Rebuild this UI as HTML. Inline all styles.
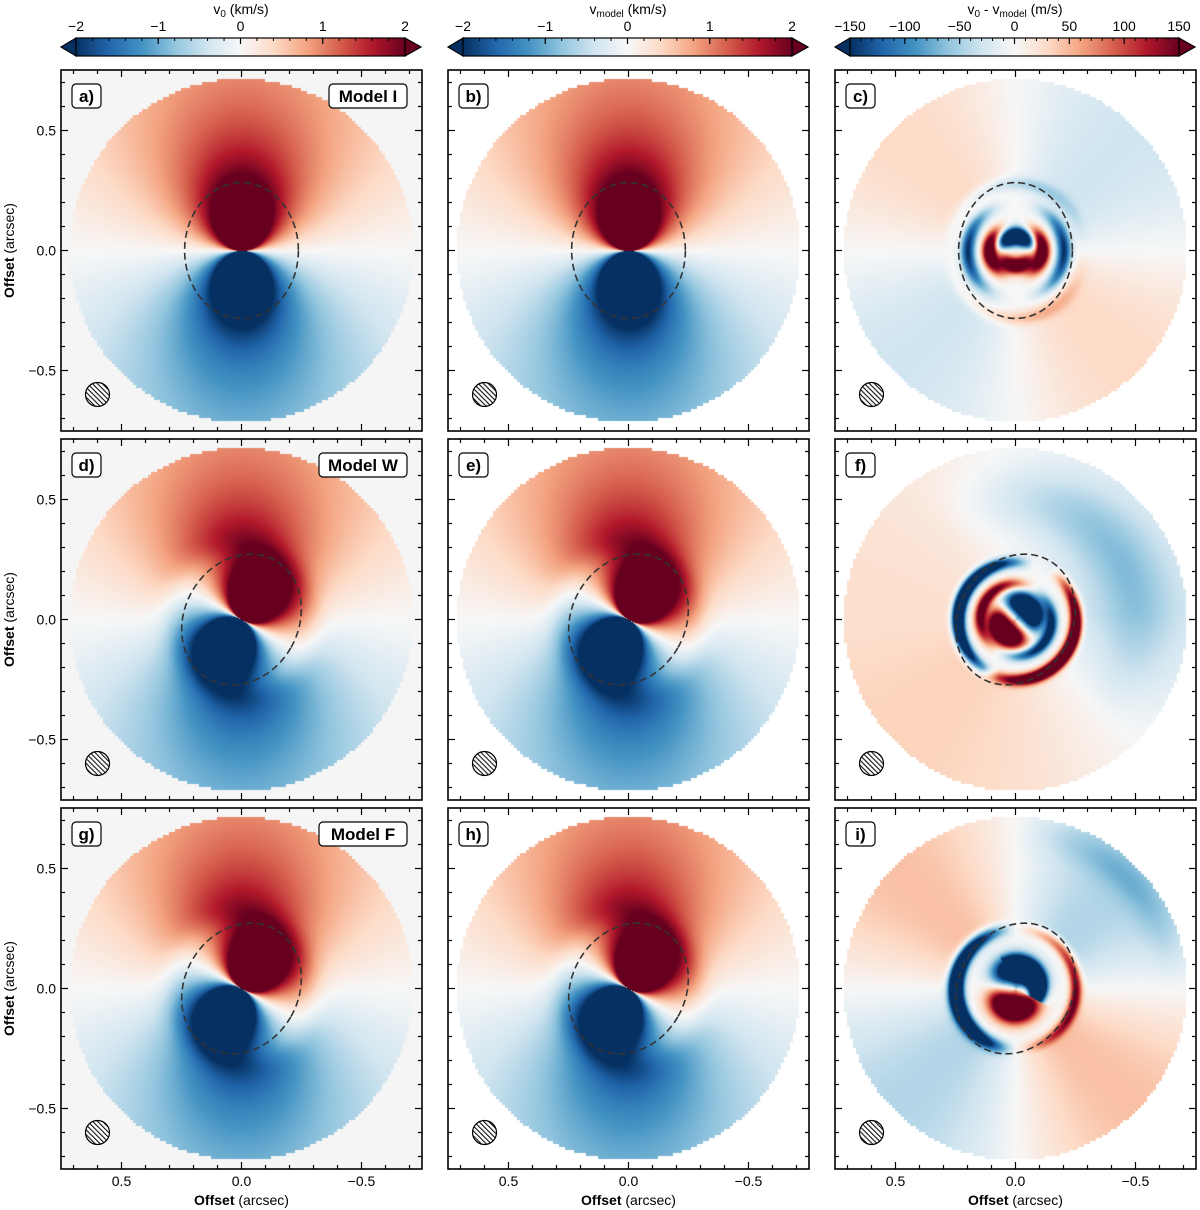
<!DOCTYPE html>
<html><head><meta charset="utf-8">
<style>
body{margin:0;background:#fff;width:1200px;height:1210px;position:relative;overflow:hidden;font-family:"Liberation Sans","DejaVu Sans",sans-serif}
canvas{position:absolute}
svg{position:absolute;left:0;top:0}
</style></head><body>
<div id="canvases"></div>
<svg id="ov" width="1200" height="1210"></svg>
<script>
// ---- data ----
const colLeft=[61,448,835];
const rowTop=[70,439,808];
const panelLetters=[["a)","b)","c)"],["d)","e)","f)"],["g)","h)","i)"]];
const modelNames=["Model I","Model W","Model F"];
const rowWarpPA=[0,30,30];          // inner position angle (deg)
const axisTicks=[0.5,0.0,-0.5];
const axisTickLabels=["0.5","0.0","\u22120.5"];
const cbVelTicks=[-2,-1,0,1,2];
const cbVelLabels=["\u22122","\u22121","0","1","2"];
const cbResTicks=[-150,-100,-50,0,50,100,150];
const cbResLabels=["\u2212150","\u2212100","\u221250","0","50","100","150"];
const vmaxVel=2, vmaxRes=150;
const diskR=0.715, ellA=0.283, ellB=0.237;
const SIZE=361, SCALE=240; // px per arcsec
const NS="http://www.w3.org/2000/svg";
const ov=document.getElementById('ov');
function el(tag,attrs,parent){const e=document.createElementNS(NS,tag);for(const k in attrs)e.setAttribute(k,attrs[k]);(parent||ov).appendChild(e);return e;}
const cmap=["#053061","#2166ac","#4393c3","#92c5de","#d1e5f0","#f7f7f7","#fddbc7","#f4a582","#d6604d","#b2182b","#67001f"].map(h=>[parseInt(h.slice(1,3),16),parseInt(h.slice(3,5),16),parseInt(h.slice(5,7),16)]);
function cm(t){t=Math.max(0,Math.min(1,t));const f=t*10,i=Math.min(9,Math.floor(f)),u=f-i;const a=cmap[i],b=cmap[i+1];return [a[0]+(b[0]-a[0])*u,a[1]+(b[1]-a[1])*u,a[2]+(b[2]-a[2])*u];}
function g(r,c,w){return Math.exp(-((r-c)/w)*((r-c)/w));}
function vel(x,y,pa0){
  const r=Math.hypot(x,y);
  const w=1/(1+Math.exp((r-0.31)/0.03));
  const pa=-pa0*w*Math.PI/180;
  const ux=Math.sin(pa),uy=Math.cos(pa);
  const a=x*ux+y*uy, b=(x*uy-y*ux)/0.84;
  const rd=Math.max(1e-4,Math.hypot(a,b));
  return 1.0*Math.pow(0.7/rd,0.9)*a/rd;
}
function res(x,y,row){
  const r=Math.hypot(x,y), phi=Math.atan2(x,y); // from north toward east(left)
  const out=r>0.3?1:Math.max(0,(r-0.2)/0.1);
  if(row===0){
    return -320*Math.cos(phi)*g(r,0.06,0.035)*(Math.cos(phi)>0?1:0.7)
      +220*Math.pow(Math.sin(phi),2)*g(r,0.11,0.03)
      -150*Math.pow(Math.sin(phi),2)*g(r,0.2,0.03)+30*Math.sin(2*phi)*out
      -40*Math.cos(phi)*g(r,0.28,0.03);
  }
  if(row===1){
    return -320*Math.cos(phi+0.8)*g(r,0.07,0.05)+180*Math.sin(phi+0.6)*g(r,0.15,0.025)
      -320*Math.max(0,Math.sin(phi+0.3))*g(r,0.24,0.025)+300*Math.max(0,-Math.sin(phi+0.6))*g(r,0.25,0.025)
      -45*Math.max(0,Math.cos(phi+0.9))*g(r,0.5,0.15)*out
      +25*Math.sin(phi)*out+25*Math.max(0,Math.cos(phi+3.1))*out;
  }
  return 300*Math.cos(phi-3.0)*g(r,0.08,0.06)-360*g(r,0.09,0.035)*(Math.cos(phi+0.8)>0.3?1:0)
    -330*Math.max(0,Math.sin(phi))*g(r,0.25,0.03)+150*Math.max(0,-Math.sin(phi))*g(r,0.25,0.025)
    +45*Math.sin(2*phi)*out-60*Math.max(0,-Math.sin(phi))*Math.max(0,Math.cos(phi))*g(r,0.65,0.08);
}
const cwrap=document.getElementById('canvases');
for(let row=0;row<3;row++)for(let col=0;col<3;col++){
  const cv=document.createElement('canvas');
  
  
  cv.width=SIZE;cv.height=SIZE;cv.style.left=colLeft[col]+'px';cv.style.top=rowTop[row]+'px';
  cwrap.appendChild(cv);
  const ctx=cv.getContext('2d'),img=ctx.createImageData(SIZE,SIZE);
  const bg=col===0?[245,245,245]:[255,255,255];
  for(let j=0;j<SIZE;j++)for(let i=0;i<SIZE;i++){
    const ii=Math.floor(i/3)*3+1.5,jj=Math.floor(j/3)*3+1.5;
    const x=(180.5-ii)/SCALE,y=(180.5-jj)/SCALE;
    let c;
    if(Math.hypot(x,y)>diskR)c=bg;
    else{
      const xx=(180.5-i)/SCALE,yy=(180.5-j)/SCALE;
      if(col<2)c=cm((vel(xx,yy,rowWarpPA[row])+vmaxVel)/(2*vmaxVel));
      else c=cm((res(xx,yy,row)+vmaxRes)/(2*vmaxRes));
    }
    const k=(j*SIZE+i)*4;img.data[k]=c[0];img.data[k+1]=c[1];img.data[k+2]=c[2];img.data[k+3]=255;
  }
  ctx.putImageData(img,0,0);
}
const defs=el('defs',{});
const pat=el('pattern',{id:'hatch',patternUnits:'userSpaceOnUse',width:3.5,height:3.5,patternTransform:'rotate(-45)'},defs);
el('rect',{width:3.5,height:3.5,fill:'#fff'},pat);
el('line',{x1:0,y1:0,x2:0,y2:3.5,stroke:'#111','stroke-width':2.2},pat);
for(let row=0;row<3;row++)for(let col=0;col<3;col++){
  const L=colLeft[col],T=rowTop[row],cx=L+180.5,cy=T+180.5;
  const G=el('g',{});
  el('ellipse',{cx:cx,cy:cy,rx:ellB*SCALE,ry:ellA*SCALE,fill:'none',stroke:'#333','stroke-width':1.6,'stroke-dasharray':'7,4',transform:`rotate(${rowWarpPA[row]} ${cx} ${cy})`,},G);
  el('circle',{cx:cx-0.6*SCALE,cy:cy+0.6*SCALE,r:12,fill:'url(#hatch)',stroke:'#000','stroke-width':1.2,},G);
  el('rect',{x:L,y:T,width:SIZE,height:SIZE,fill:'none',stroke:'#000','stroke-width':1.6,},G);
  for(let k=-7;k<=7;k++){
    const v=k/10,major=(k%5===0),len=major?7:4;
    const px=cx-v*SCALE,py=cy-v*SCALE;
    el('line',{x1:px,y1:T,x2:px,y2:T+len,stroke:'#000','stroke-width':1.2},G);
    el('line',{x1:px,y1:T+SIZE,x2:px,y2:T+SIZE-len,stroke:'#000','stroke-width':1.2},G);
    el('line',{x1:L,y1:py,x2:L+len,y2:py,stroke:'#000','stroke-width':1.2},G);
    el('line',{x1:L+SIZE,y1:py,x2:L+SIZE-len,y2:py,stroke:'#000','stroke-width':1.2},G);
  }
  if(col===0){
    axisTicks.forEach((v,i)=>{const t=el('text',{x:L-5,y:cy-v*SCALE+5,'text-anchor':'end','font-size':14,fill:'#000',},G);t.textContent=axisTickLabels[i];});
    const yl=el('text',{x:0,y:0,'font-size':14,'text-anchor':'middle',transform:`translate(14 ${cy}) rotate(-90)`,},G);
    yl.innerHTML='<tspan font-weight="bold">Offset</tspan> (arcsec)';
  }
  if(row===2){
    axisTicks.forEach((v,i)=>{const t=el('text',{x:cx-v*SCALE,y:T+SIZE+17,'text-anchor':'middle','font-size':14,fill:'#000',},G);t.textContent=axisTickLabels[i];});
    const xl=el('text',{x:cx,y:T+SIZE+36,'font-size':14,'text-anchor':'middle',},G);
    xl.innerHTML='<tspan font-weight="bold">Offset</tspan> (arcsec)';
  }
  el('rect',{x:L+11,y:T+14,width:29,height:24,rx:4,fill:'#fff',stroke:'#000','stroke-width':1.2,},G);
  const lt=el('text',{x:L+25.5,y:T+32,'text-anchor':'middle','font-size':17,'font-weight':'bold',},G);
  lt.textContent=panelLetters[row][col];
  if(col===0){
    const w=row===0?78:88;
    el('rect',{x:L+SIZE-15-w,y:T+14,width:w,height:24,rx:4,fill:'#fff',stroke:'#000','stroke-width':1.2,},G);
    const mt=el('text',{x:L+SIZE-15-w/2,y:T+32,'text-anchor':'middle','font-size':17,'font-weight':'bold',},G);
    mt.textContent=modelNames[row];
  }
}
const cbTitles=['v<tspan font-size="10" dy="3">0</tspan><tspan dy="-3"> (km/s)</tspan>','v<tspan font-size="10" dy="3">model</tspan><tspan dy="-3"> (km/s)</tspan>','v<tspan font-size="10" dy="3">0</tspan><tspan dy="-3"> - v</tspan><tspan font-size="10" dy="3">model</tspan><tspan dy="-3"> (m/s)</tspan>'];
for(let col=0;col<3;col++){
  const L=colLeft[col],x0=L+15,x1=L+344,y0=38,y1=56,ym=47;
  const G=el('g',{});
  const gid='cbg'+col;
  const lg=el('linearGradient',{id:gid,x1:0,x2:1,y1:0,y2:0},defs);
  for(let i=0;i<=10;i++){const c=cm(i/10);el('stop',{offset:i/10,'stop-color':`rgb(${c.map(Math.round).join(',')})`},lg);}
  const lo=cm(0),hi=cm(1);
  el('polygon',{points:`${L},${ym} ${x0},${y0} ${x0},${y1}`,fill:`rgb(${lo.join(',')})`,stroke:'#000','stroke-width':1.2},G);
  el('polygon',{points:`${L+SIZE-1},${ym} ${x1},${y0} ${x1},${y1}`,fill:`rgb(${hi.join(',')})`,stroke:'#000','stroke-width':1.2},G);
  el('rect',{x:x0,y:y0,width:x1-x0,height:y1-y0,fill:`url(#${gid})`,stroke:'#000','stroke-width':1.2},G);
  const ticks=col<2?cbVelTicks:cbResTicks,labels=col<2?cbVelLabels:cbResLabels,vm=col<2?vmaxVel:vmaxRes;
  const mstep=col<2?0.2:10;
  for(let v=-vm;v<=vm+1e-6;v+=mstep){const px=x0+(v+vm)/(2*vm)*(x1-x0);el('line',{x1:px,y1:y0,x2:px,y2:y0+3,stroke:'#000','stroke-width':1},G);}
  ticks.forEach((v,i)=>{const px=x0+(v+vm)/(2*vm)*(x1-x0);
    el('line',{x1:px,y1:y0,x2:px,y2:y0+6,stroke:'#000','stroke-width':1.2},G);
    const t=el('text',{x:px,y:31,'text-anchor':'middle','font-size':14,},G);t.textContent=labels[i];});
  const tt=el('text',{x:L+180,y:14,'text-anchor':'middle','font-size':14,},G);
  tt.innerHTML=cbTitles[col];
}
</script>
</body></html>
